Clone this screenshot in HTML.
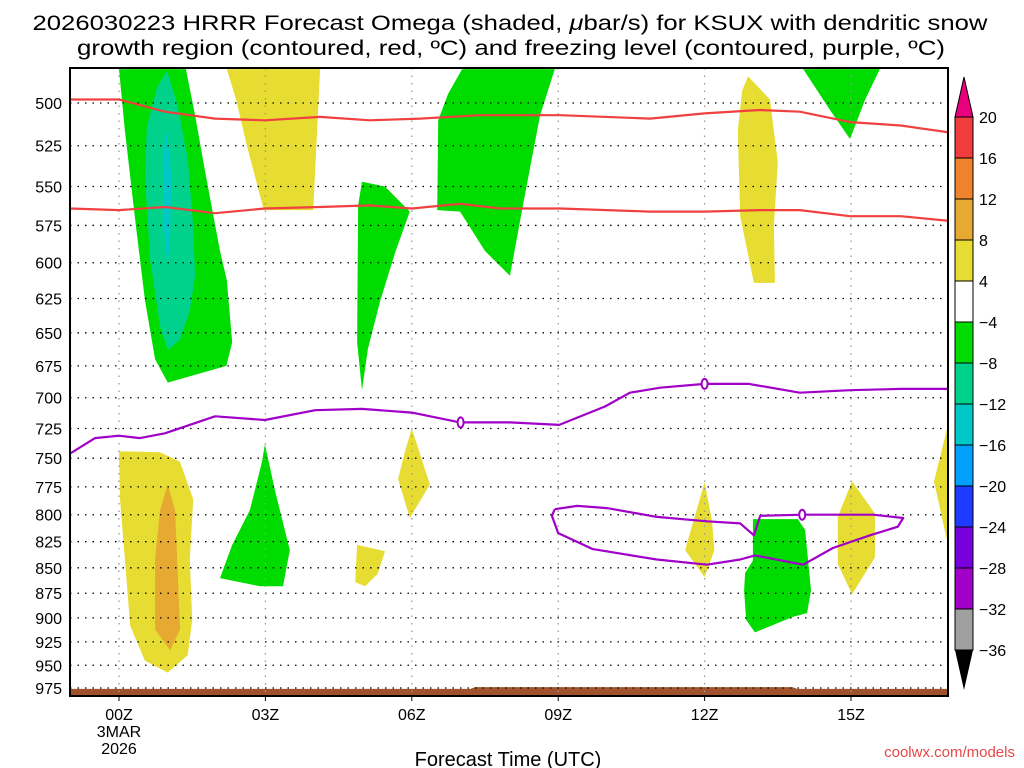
<!DOCTYPE html>
<html><head><meta charset="utf-8"><style>
body{margin:0;background:#fff;width:1024px;height:768px;overflow:hidden}
svg{display:block}
text{font-family:"Liberation Sans",sans-serif}
</style></head><body>
<svg id="c" width="1024" height="768">
<text x="510" y="30" text-anchor="middle" font-size="21" textLength="955" lengthAdjust="spacingAndGlyphs">2026030223 HRRR Forecast Omega (shaded, <tspan font-style="italic">μ</tspan>bar/s) for KSUX with dendritic snow</text>
<text x="511" y="55" text-anchor="middle" font-size="21" textLength="868" lengthAdjust="spacingAndGlyphs">growth region (contoured, red, ºC) and freezing level (contoured, purple, ºC)</text>
<defs><clipPath id="pc"><rect x="70" y="68" width="878" height="628"/></clipPath></defs>
<g id="shade" clip-path="url(#pc)"></g>
<g id="grid"></g>
<g id="lines" clip-path="url(#pc)"></g>
<rect x="70" y="68" width="878" height="628" fill="none" stroke="#000" stroke-width="2"/>
<g id="axes"></g>
<g id="cbar"></g>
<text x="508" y="766" text-anchor="middle" font-size="20">Forecast Time (UTC)</text>
<text x="1015" y="757" text-anchor="end" font-size="15" fill="#e84848">coolwx.com/models</text>
</svg>
<script>
const yTicks=[500,525,550,575,600,625,650,675,700,725,750,775,800,825,850,875,900,925,950,975];
const xTickHours=[0,3,6,9,12,15];
const xTickLabels=["00Z","03Z","06Z","09Z","12Z","15Z"];
const cbLevels=[20,16,12,8,4,-4,-8,-12,-16,-20,-24,-28,-32,-36];
const cbColors=["#f03c3c","#f0822c","#e6aa32","#e6dc32","#ffffff","#00dc00","#00d28c","#00c8c8","#00a0ff","#1e3cff","#7800dc","#a000c8","#a0a0a0"];
// shaded regions: [hours], [hPa]
const greenBigH=[0,1.37,1.56,1.76,2.07,2.21,2.32,2.2,1.0,0.74,0.53,0.33,0.12,0];
const greenBigP=[481,481,507,540,592,612,657,675,688,670,626,571,516,481];
const tealH=[0.98,1.19,1.41,1.52,1.56,1.45,1.25,1.0,0.84,0.64,0.53,0.57,0.78];
const tealP=[482,500,533,576,609,634,655,663,645,598,544,514,491];
const cyanH=[0.98,1.07,1.05,1.0,0.92,0.9];
const cyanP=[515,544,576,604,576,533];
const yelTopH=[2.21,4.12,3.98,2.97,2.62,2.4];
const yelTopP=[481,481,565,565,525,498];
const green05H=[4.98,5.45,5.96,5.66,5.35,5.1,4.98,4.88,4.9];
const green05P=[547,550,566,593,627,662,694,657,562];
const green08H=[7.03,8.93,8.63,8.32,8.01,7.5,6.99,6.52,6.54,6.74];
const green08P=[481,481,507,555,609,592,566,565,510,495];
const yel13H=[12.89,13.34,13.5,13.42,13.44,13.01,12.73,12.68,12.77];
const yel13P=[485,498,535,575,614,614,569,516,493];
const green15H=[14.02,15.59,15.29,14.98,14.57];
const green15P=[481,481,498,521,504];
const yelBotH=[0,0.84,1.25,1.52,1.45,1.5,1.41,1.0,0.53,0.23,0.12,0.02];
const yelBotP=[744,745,753,786,842,902,939,958,945,908,842,786];
const goldBotH=[1.0,1.15,1.21,1.25,1.05,0.74,0.74,0.84];
const goldBotP=[773,796,861,912,934,912,842,796];
const green03H=[2.99,3.2,3.5,3.36,2.89,2.07,2.32,2.68,2.93];
const green03P=[738,779,833,868,868,860,828,796,753];
const yel05H=[4.88,5.45,5.3,5.04,4.84];
const yel05P=[828,834,856,868,864];
const yel06H=[6.0,6.37,5.96,5.72,5.86];
const yel06P=[725,773,803,768,744];
const yel12H=[12.0,12.15,12.2,12.0,11.6];
const yel12P=[771,805,833,859,833];
const green13H=[12.99,13.91,14.06,14.18,14.1,13.81,13.03,12.85,12.81,12.83,12.99];
const green13P=[804,804,814,872,895,899,915,902,872,855,843];
const yel15H=[15.02,15.49,15.49,15.02,14.73,14.73];
const yel15P=[770,799,840,876,846,802];
const yelEdgeH=[17.0,16.7,16.9,17.0,17.3,17.3];
const yelEdgeP=[720,770,810,830,830,720];
const groundH=[-1,7.2,7.3,13.8,13.9,17];
const groundP=[976,976,974,974,976,976];
// contours
const redUpH=[-1,0,0.94,1.97,2.99,4.12,5.14,6.17,7.4,9.04,10.88,12,13.13,13.95,14.98,16.02,16.99];
const redUpP=[498,498,505,509,510,508,510,509,507,507,509,506,504,505,511,513,517];
const redLoH=[-1,0,0.94,1.97,2.99,4.12,5.14,6.0,6.99,7.81,9.04,10.88,12,13.13,13.95,14.98,16.02,16.99];
const redLoP=[564,565,563,567,564,563,562,564,561,564,564,566,566,565,565,569,569,572];
const frzH=[-1,-0.49,0,0.43,0.94,1.97,2.99,4.02,4.98,6.0,6.99,8.01,9.02,9.96,10.47,11.09,12,12.91,13.95,14.98,16.02,16.99];
const frzP=[746,733,731,733,729,715,718,710,709,712,720,720,722,707,696,692,689,689,696,694,693,693];
const loopH=[8.93,9.39,10.0,11.02,12.05,12.73,13.01,13.14,14.02,15.45,16.07,15.96,15.39,14.63,14.02,13.03,12.73,12.05,11.02,9.71,9.0,8.87,8.93];
const loopP=[795,792,794,802,806,808,819,801,800,800,803,811,819,831,847,838,842,847,842,832,817,801,795];
const frzLabelH=[7.0,12.0,14.0];
const frzLabelP=[720,689,800];

const NS="http://www.w3.org/2000/svg";
const L500=Math.log(500);
function X(h){return 119+h*48.8;}
function Y(p){return 103+(Math.log(p)-L500)*876;}
function mk(tag,attrs,parent){const e=document.createElementNS(NS,tag);for(const k in attrs)e.setAttribute(k,attrs[k]);parent.appendChild(e);return e;}
function pts(H,P){return H.map((h,i)=>X(h).toFixed(1)+","+Y(P[i]).toFixed(1)).join(" ");}
const shade=document.getElementById("shade");
function poly(H,P,fill,name){
  const e=mk("polygon",{points:pts(H,P),fill:fill},shade);
  
  
}
poly(greenBigH,greenBigP,"#00dc00","omega-area-green-left");
poly(tealH,tealP,"#00d28c","omega-area-teal-left");
poly(cyanH,cyanP,"#00c8c8","omega-area-cyan-left");
poly(yelTopH,yelTopP,"#e6dc32","omega-area-yellow-top-left");
poly(green05H,green05P,"#00dc00","omega-area-green-05z");
poly(green08H,green08P,"#00dc00","omega-area-green-08z");
poly(yel13H,yel13P,"#e6dc32","omega-area-yellow-13z");
poly(green15H,green15P,"#00dc00","omega-area-green-15z");
poly(yelBotH,yelBotP,"#e6dc32","omega-area-yellow-bottom-left");
poly(goldBotH,goldBotP,"#e6aa32","omega-area-gold-bottom-left");
poly(green03H,green03P,"#00dc00","omega-area-green-03z");
poly(yel05H,yel05P,"#e6dc32","omega-area-yellow-05z");
poly(yel06H,yel06P,"#e6dc32","omega-area-yellow-06z");
poly(yel12H,yel12P,"#e6dc32","omega-area-yellow-12z");
poly(green13H,green13P,"#00dc00","omega-area-green-13z");
poly(yel15H,yel15P,"#e6dc32","omega-area-yellow-15z");
poly(yelEdgeH,yelEdgeP,"#e6dc32","omega-area-yellow-right-edge");
// ground
{const gh=groundH.concat([17,-1]);const gp=groundP.concat([1000,1000]);
const e=mk("polygon",{points:pts(gh,gp),fill:"#a0522d"},shade);

}
// grid
const grid=document.getElementById("grid");
yTicks.forEach(p=>{const e=mk("line",{x1:70,x2:948,y1:Y(p),y2:Y(p),stroke:"#000","stroke-width":1.3,"stroke-dasharray":"1.5,6"},grid);

});
xTickHours.forEach(h=>{const e=mk("line",{x1:X(h),x2:X(h),y1:68,y2:696,stroke:"#999","stroke-width":1.3,"stroke-dasharray":"1.5,6"},grid);

});
// lines
const lines=document.getElementById("lines");
function pl(H,P,col,name){const e=mk("polyline",{points:pts(H,P),fill:"none",stroke:col,"stroke-width":2.2,"stroke-linejoin":"round"},lines);

}
pl(redUpH,redUpP,"#f04040","dgz-contour-upper");
pl(redLoH,redLoP,"#f04040","dgz-contour-lower");
pl(frzH,frzP,"#a000c8","freezing-level-contour");
pl(loopH,loopP,"#a000c8","freezing-level-loop");
frzLabelH.forEach((h,i)=>{
  const e=mk("ellipse",{cx:X(h),cy:Y(frzLabelP[i]),rx:3,ry:5,fill:"#fff",stroke:"#a000c8","stroke-width":2},lines);
  
  
});
// axes
const axes=document.getElementById("axes");
yTicks.forEach(p=>{const t=mk("text",{x:62,y:Y(p)+6,"text-anchor":"end","font-size":16},axes);t.textContent=p;

});
xTickHours.forEach((h,i)=>{
  const tk=mk("line",{x1:X(h),x2:X(h),y1:696,y2:701,stroke:"#000","stroke-width":1},axes);
  
  
  const t=mk("text",{x:X(h),y:720,"text-anchor":"middle","font-size":16},axes);t.textContent=xTickLabels[i];
  
  
});
{const t1=mk("text",{x:X(0),y:737,"text-anchor":"middle","font-size":16},axes);t1.textContent="3MAR";


const t2=mk("text",{x:X(0),y:754,"text-anchor":"middle","font-size":16},axes);t2.textContent="2026";

}
// colorbar
const cb=document.getElementById("cbar");
const cbTop=117,cbStep=41,cx0=955,cw=18;
{const e=mk("polygon",{points:`${cx0},${cbTop} ${cx0+cw},${cbTop} ${cx0+cw/2},${cbTop-40}`,fill:"#e8007f",stroke:"#000","stroke-width":1},cb);

}
cbColors.forEach((c,i)=>{const e=mk("rect",{x:cx0,y:cbTop+i*cbStep,width:cw,height:cbStep,fill:c,stroke:"#000","stroke-width":1},cb);

});
{const yb=cbTop+cbColors.length*cbStep;const e=mk("polygon",{points:`${cx0},${yb} ${cx0+cw},${yb} ${cx0+cw/2},${yb+40}`,fill:"#000"},cb);

}
cbLevels.forEach((v,i)=>{const t=mk("text",{x:979,y:cbTop+i*cbStep+6,"font-size":16},cb);t.textContent=v<0?"\u2212"+(-v):v;

});
</script>
</body></html>
